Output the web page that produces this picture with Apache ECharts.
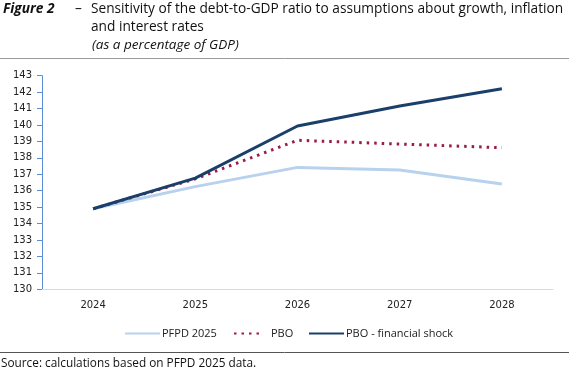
<!DOCTYPE html>
<html><head><meta charset="utf-8">
<script src="https://cdn.jsdelivr.net/npm/echarts@6/dist/echarts.min.js"></script>
<style>html,body{margin:0;padding:0;background:#fff}#c{width:569px;height:388px}</style>
</head><body><div id="c"></div>
<script>
var years = ['2024','2025','2026','2027','2028'];
var pfpd = [134.9, 136.25, 137.42, 137.26, 136.41];
var pbo = [134.9, 136.72, 139.07, 138.84, 138.62];
var shock = [134.9, 136.77, 139.94, 141.16, 142.21];
var yTicks = {min:130, max:143, step:1};
var names = ['PFPD 2025','PBO','PBO - financial shock'];

var F = '"Open Sans", "Noto Sans", sans-serif';
var chart = echarts.init(document.getElementById('c'), null, {renderer:'canvas'});
var legTxt = {fontFamily:F, fontSize:11, color:'#222'};
chart.setOption({
  animation:false,
  backgroundColor:'#fff',
  grid:{left:42, right:16, top:75.7, bottom:98.7, containLabel:false},
  xAxis:{type:'category', data:years, boundaryGap:true,
    axisLine:{lineStyle:{color:'#d9d9d9', width:1}}, axisTick:{show:false},
    axisLabel:{margin:11, color:'#222', fontFamily:'DejaVu Sans', fontSize:10}},
  yAxis:{type:'value', min:yTicks.min, max:yTicks.max, interval:yTicks.step,
    axisLine:{show:true, lineStyle:{color:'#5b8fd1', width:1}},
    axisTick:{show:true, length:5, lineStyle:{color:'#5b8fd1'}},
    splitLine:{show:false},
    axisLabel:{margin:10, color:'#222', fontFamily:'DejaVu Sans', fontSize:10}},
  legend:[
    {data:[names[0]], left:119, top:323, itemWidth:35, itemHeight:12, itemGap:0, itemStyle:{opacity:0},
     textStyle:Object.assign({padding:[0,0,0,-3]}, legTxt)},
    {data:[names[1]], left:228, top:323, itemWidth:28, itemHeight:12, itemStyle:{opacity:0},
     textStyle:Object.assign({padding:[0,0,0,4]}, legTxt)},
    {data:[names[2]], left:303, top:323, itemWidth:35, itemHeight:12, itemStyle:{opacity:0},
     textStyle:Object.assign({padding:[0,0,0,-3]}, legTxt)}
  ],
  series:[
    {name:names[0], type:'line', data:pfpd, symbol:'none', lineStyle:{color:'#b8d2ee', width:3}, itemStyle:{color:'#b8d2ee'}},
    {name:names[1], type:'line', data:pbo, symbol:'none', lineStyle:{color:'#9b1b43', width:3, type:[2.5,5]}, itemStyle:{color:'#9b1b43'}},
    {name:names[2], type:'line', data:shock, symbol:'none', lineStyle:{color:'#1b3f6b', width:3}, itemStyle:{color:'#1b3f6b'}}
  ],
  graphic:[
    {type:'text', left:3, top:2, style:{text:'Figure 2', font:'bold italic 13.7px '+F, fill:'#111'}},
    {type:'text', left:75, top:2, style:{text:'–', font:'13.7px '+F, fill:'#111'}},
    {type:'text', left:91, top:2, style:{text:'Sensitivity of the debt-to-GDP ratio to assumptions about growth, inflation', font:'13.7px '+F, fill:'#111'}},
    {type:'text', left:91, top:20, style:{text:'and interest rates', font:'13.7px '+F, fill:'#111'}},
    {type:'text', left:92, top:38, style:{text:'(as a percentage of GDP)', font:'italic 13.5px '+F, fill:'#111'}},
    {type:'line', shape:{x1:0, y1:58.5, x2:569, y2:58.5}, style:{stroke:'#999', lineWidth:1}},
    {type:'line', shape:{x1:0, y1:352.5, x2:569, y2:352.5}, style:{stroke:'#555', lineWidth:1}},
    {type:'text', left:1, top:358, style:{text:'Source: calculations based on PFPD 2025 data.', font:'11.8px '+F, fill:'#111'}}
  ]
});
</script></body></html>
